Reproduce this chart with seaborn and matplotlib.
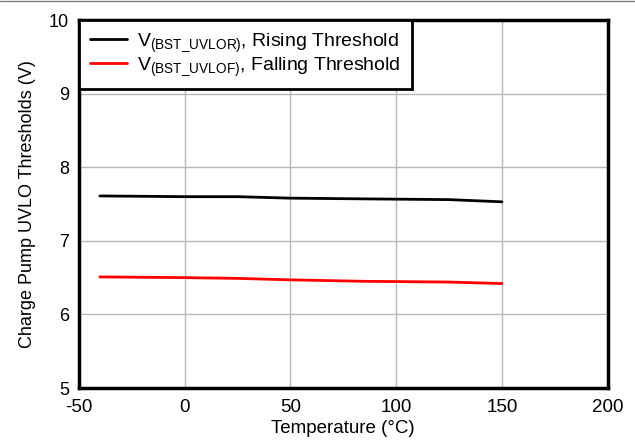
import pandas as pd
import matplotlib
matplotlib.use("Agg")
import matplotlib.pyplot as plt
import seaborn as sns

# Data
temperature = [-40, 0, 25, 50, 85, 125, 150]
rising = [7.61, 7.60, 7.60, 7.58, 7.57, 7.56, 7.53]
falling = [6.51, 6.50, 6.49, 6.47, 6.45, 6.44, 6.42]

labels = [r"V$_{\mathrm{(BST\_UVLOR)}}$, Rising Threshold",
          r"V$_{\mathrm{(BST\_UVLOF)}}$, Falling Threshold"]

sns.set_style("white")
plt.rcParams["font.family"] = ["Liberation Sans", "DejaVu Sans"]
plt.rcParams["mathtext.fontset"] = "custom"
plt.rcParams["mathtext.rm"] = "Liberation Sans"
plt.rcParams["mathtext.it"] = "Liberation Sans:italic"
plt.rcParams["axes.unicode_minus"] = False
plt.rcParams["text.color"] = "black"
plt.rcParams["axes.labelcolor"] = "black"
plt.rcParams["xtick.color"] = "black"
plt.rcParams["ytick.color"] = "black"

data = pd.DataFrame({
    "Temperature": temperature * 2,
    "Threshold": rising + falling,
    "Series": [labels[0]] * len(temperature) + [labels[1]] * len(temperature),
})

fig = plt.figure(figsize=(6.35, 4.45), dpi=100)
ax = fig.add_axes([0.124, 0.128, 0.833, 0.827])

sns.lineplot(data=data, x="Temperature", y="Threshold", hue="Series",
             palette=["black", "red"], linewidth=2, ax=ax)

ax.set_xlim(-50, 200)
ax.set_ylim(5, 10)
ax.set_xticks(range(-50, 201, 50))
ax.set_yticks(range(5, 11))
ax.grid(True, color="#b8b8b8", linewidth=1)
ax.tick_params(axis="x", labelsize=13.5, length=0, pad=8)
ax.tick_params(axis="y", labelsize=13, length=0, pad=7)
ax.set_xlabel("Temperature (°C)", fontsize=13.5, labelpad=3)
ax.set_ylabel("Charge Pump UVLO Thresholds (V)", fontsize=13, labelpad=9)

for sp in ax.spines.values():
    sp.set_color("black")
    sp.set_linewidth(2.5)

leg = ax.legend(loc="upper left", bbox_to_anchor=(0, 1), borderaxespad=0,
                fontsize=14, fancybox=False, framealpha=1, handlelength=1.9,
                handletextpad=0.5, labelspacing=0.05, borderpad=0.6)
leg.get_frame().set_edgecolor("black")
leg.get_frame().set_linewidth(2)

# thin border line at the top of the figure
fig.add_artist(plt.Line2D([0, 1], [0.998, 0.998], color="#808080", linewidth=1))

fig.savefig("out.png", dpi=100)
